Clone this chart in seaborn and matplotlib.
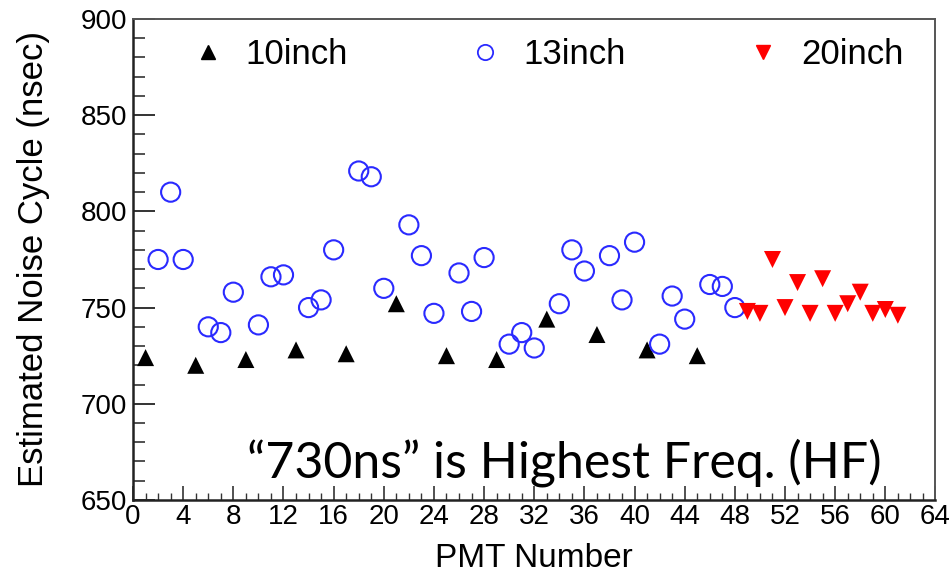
import matplotlib
matplotlib.use("Agg")
import matplotlib.pyplot as plt
import seaborn as sns
import pandas as pd
from matplotlib.lines import Line2D
from matplotlib.ticker import MultipleLocator

# ---- data ----
pmt_10 = [1, 5, 9, 13, 17, 21, 25, 29, 33, 37, 41, 45]
cyc_10 = [724, 720, 723, 728, 726, 752, 725, 723, 744, 736, 728, 725]

pmt_13 = [2, 3, 4, 6, 7, 8, 10, 11, 12, 14, 15, 16, 18, 19, 20, 22, 23, 24,
          26, 27, 28, 30, 31, 32, 34, 35, 36, 38, 39, 40, 42, 43, 44, 46, 47, 48]
cyc_13 = [775, 810, 775, 740, 737, 758, 741, 766, 767, 750, 754, 780, 821, 818, 760, 793, 777, 747,
          768, 748, 776, 731, 737, 729, 752, 780, 769, 777, 754, 784, 731, 756, 744, 762, 761, 750]

pmt_20 = [49, 50, 51, 52, 53, 54, 55, 56, 57, 58, 59, 60, 61]
cyc_20 = [748, 747, 775, 750, 763, 747, 765, 747, 752, 758, 747, 749, 746]

labels = ["10inch", "13inch", "20inch"]
x_ticks = list(range(0, 65, 4))
y_ticks = [650, 700, 750, 800, 850, 900]

df10 = pd.DataFrame({"pmt": pmt_10, "cyc": cyc_10})
df13 = pd.DataFrame({"pmt": pmt_13, "cyc": cyc_13})
df20 = pd.DataFrame({"pmt": pmt_20, "cyc": cyc_20})

sns.set_style("white")
plt.rcParams["font.family"] = ["Liberation Sans", "DejaVu Sans"]
plt.rcParams["text.color"] = "black"
plt.rcParams["axes.labelcolor"] = "black"
plt.rcParams["xtick.color"] = "black"
plt.rcParams["ytick.color"] = "black"

fig = plt.figure(figsize=(9.53, 5.76), dpi=100)
ax = fig.add_axes([0.1396, 0.132, 0.842, 0.835])

sns.scatterplot(data=df10, x="pmt", y="cyc", ax=ax, marker="^", s=150,
                color="black", edgecolor="none", linewidth=0)
sns.scatterplot(data=df13, x="pmt", y="cyc", ax=ax, marker="o", s=190,
                facecolor="none", edgecolor="#2a2aff", linewidth=1.5)
sns.scatterplot(data=df20, x="pmt", y="cyc", ax=ax, marker="v", s=150,
                color="red", edgecolor="none", linewidth=0)

ax.set_xlim(0, 64)
ax.set_ylim(650, 900)
ax.set_xticks(x_ticks)
ax.set_xticklabels([str(t) for t in x_ticks])
ax.set_yticks(y_ticks)
ax.set_yticklabels([str(t) for t in y_ticks])
ax.xaxis.set_minor_locator(MultipleLocator(1))
ax.yaxis.set_minor_locator(MultipleLocator(10))

ax.tick_params(bottom=True, left=True, top=False, right=False, which="both")
ax.tick_params(axis="x", which="major", direction="in", length=10, width=1.2,
               labelsize=20, pad=3, color="#333333", labelcolor="black")
ax.tick_params(axis="x", which="minor", direction="in", length=5, width=1.0,
               color="#333333")
ax.tick_params(axis="y", which="major", direction="in", length=16, width=1.4,
               labelsize=20, pad=4, color="#333333", labelcolor="black")
ax.tick_params(axis="y", which="minor", direction="in", length=8.5, width=1.2,
               color="#333333")

for side in ["left", "bottom"]:
    ax.spines[side].set_linewidth(1.8)
    ax.spines[side].set_color("#222222")
for side in ["top", "right"]:
    ax.spines[side].set_linewidth(1.4)
    ax.spines[side].set_color("#555555")

ax.set_xlabel("PMT Number", fontsize=24, labelpad=9, color="black")
ax.set_ylabel("Estimated Noise Cycle (nsec)", fontsize=25, labelpad=22, color="black")

handles = [
    Line2D([], [], marker="^", linestyle="none", color="black", markersize=10),
    Line2D([], [], marker="o", linestyle="none", markerfacecolor="none",
           markeredgecolor="#2a2aff", markeredgewidth=1.3, markersize=11),
    Line2D([], [], marker="v", linestyle="none", color="red", markersize=10),
]
ax.legend(handles, labels, ncol=3, frameon=False, fontsize=25,
          loc="upper left", bbox_to_anchor=(0.054, 0.99),
          handlelength=1.0, handletextpad=0.6, columnspacing=3.45,
          borderaxespad=0.0)

ax.text(0.537, 0.077, "\u201c730ns\u201d is Highest Freq. (HF)", transform=ax.transAxes,
        fontsize=36, family=["Lato", "DejaVu Sans"], ha="center", va="center",
        color="black")

fig.savefig("out.png", dpi=100)
